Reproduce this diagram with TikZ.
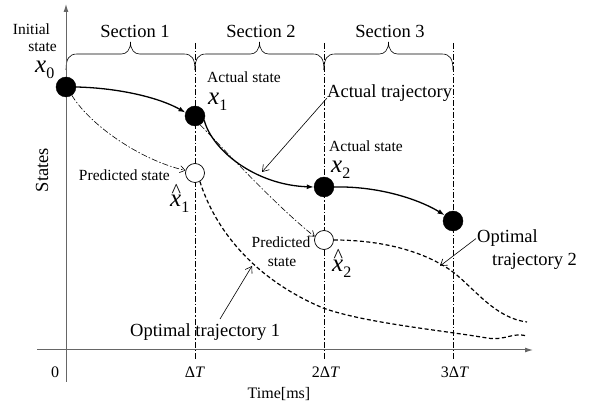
\documentclass[tikz,border=0pt]{standalone}
\usepackage{fontspec}
\setmainfont{Liberation Serif}
\usetikzlibrary{arrows.meta}
\newcommand\xsub[1]{\textit{x}\raisebox{-5.5pt}{\fontsize{16}{16}\selectfont #1}}
\newcommand\xhatsub[1]{\rlap{\hspace{1.5pt}\raisebox{9pt}{\fontsize{20}{20}\selectfont\textasciicircum}}\xsub{#1}}
\begin{document}
\begin{tikzpicture}[x=1pt,y=-1pt,
  bigtxt/.style={font=\fontsize{18.5}{21}\selectfont, inner sep=0pt},
  midtxt/.style={font=\fontsize{15.5}{18}\selectfont, inner sep=0pt},
  ticktxt/.style={font=\fontsize{16}{18}\selectfont, inner sep=0pt},
  xlab/.style={font=\fontsize{25}{25}\selectfont, inner sep=0pt, anchor=base west},
  fullstate/.style={circle, fill=black, draw=black, minimum size=20pt, inner sep=0pt},
  openstate/.style={circle, fill=white, draw=black, line width=0.7pt, minimum size=19pt, inner sep=0pt},
  axisline/.style={draw=black!60, line width=1pt},
  sectline/.style={line width=0.6pt, dash pattern=on 6pt off 2pt on 1.5pt off 2pt},
  bracepath/.style={line width=0.6pt},
  actual/.style={line width=1.3pt, -{Latex[length=7pt,width=5pt]}},
  predicted/.style={line width=0.6pt, dash pattern=on 6pt off 2pt on 1.5pt off 2pt, -{Straight Barb[length=5pt,width=7pt]}},
  optimal/.style={line width=1.2pt, dash pattern=on 4pt off 2.5pt},
  pointer/.style={line width=0.6pt, -{Straight Barb[length=6pt,width=8pt]}},
]
\useasboundingbox (0,0) rectangle (595,411);

% section boundaries
\coordinate (v1t) at (195,43); \coordinate (v1b) at (195,360);
\coordinate (v2t) at (324,43); \coordinate (v2b) at (324,360);
\coordinate (v3t) at (453,43); \coordinate (v3b) at (453,360);
\draw[sectline] (v1t) -- (v1b);
\draw[sectline] (v2t) -- (v2b);
\draw[sectline] (v3t) -- (v3b);

% braces
\draw[bracepath] (66,70) .. controls (66,59) and (69,54) .. (77,54) -- (121.5,54)
  .. controls (126.5,54) and (130.5,50) .. (130.5,42) .. controls (130.5,50) and (134.5,54) .. (139.5,54)
  -- (184,54) .. controls (192,54) and (195,59) .. (195,70);
\draw[bracepath] (195,70) .. controls (195,59) and (198,54) .. (206,54) -- (250.5,54)
  .. controls (255.5,54) and (259.5,50) .. (259.5,42) .. controls (259.5,50) and (263.5,54) .. (268.5,54)
  -- (313,54) .. controls (321,54) and (324,59) .. (324,70);
\draw[bracepath] (324,70) .. controls (324,59) and (327,54) .. (335,54) -- (379.5,54)
  .. controls (384.5,54) and (388.5,50) .. (388.5,42) .. controls (388.5,50) and (392.5,54) .. (397.5,54)
  -- (442,54) .. controls (450,54) and (453,59) .. (453,70);

% axes
\coordinate (yb) at (66,382); \coordinate (yt) at (66,4);
\coordinate (xl) at (37,350); \coordinate (xr) at (533,350);
\draw[axisline, -{Latex[length=8pt,width=5pt]}] (yb) -- (yt);
\draw[axisline, -{Latex[length=8pt,width=5pt]}] (xl) -- (xr);

% states
\node[fullstate] (x0) at (66,87) {};
\node[fullstate] (x1) at (195,116) {};
\node[fullstate] (x2) at (324,187) {};
\node[fullstate] (x3) at (453,221) {};
\node[openstate] (p1) at (195,173) {};
\node[openstate] (p2) at (324,240) {};

% texts
\node[bigtxt, anchor=base] (sec1) at (135,38) {Section 1};
\node[bigtxt, anchor=base] (sec2) at (261,38) {Section 2};
\node[bigtxt, anchor=base] (sec3) at (390,38) {Section 3};
\node[midtxt, anchor=base] (init1) at (31.5,35) {Initial};
\node[midtxt, anchor=base] (init2) at (42.5,52) {state};
\node[xlab] (lx0) at (35,73) {\xsub{0}};
\node[midtxt, anchor=base west] (as1) at (207,83) {Actual state};
\node[xlab] (lx1) at (208,105) {\xsub{1}};
\node[midtxt, anchor=base west] (as2) at (329,152) {Actual state};
\node[xlab] (lx2) at (331,173) {\xsub{2}};
\node[bigtxt, anchor=base west] (atraj) at (327,98) {Actual trajectory};
\node[midtxt, anchor=base east] (ps1) at (170,181) {Predicted state};
\node[xlab] (lp1) at (170,207) {\xhatsub{1}};
\node[midtxt, anchor=base] (ps2a) at (281,248) {Predicted};
\node[midtxt, anchor=base] (ps2b) at (282,267) {state};
\node[xlab] (lp2) at (332,272) {\xhatsub{2}};
\node[bigtxt, anchor=base west] (opt1) at (130,337) {Optimal trajectory 1};
\node[bigtxt, anchor=base west] (opt2a) at (477,243) {Optimal};
\node[bigtxt, anchor=base west] (opt2b) at (492,266) {trajectory 2};
\node[ticktxt, anchor=base] (t0) at (55,378) {0};
\node[ticktxt, anchor=base] (t1) at (195,378) {Δ\textit{T}};
\node[ticktxt, anchor=base] (t2) at (326,378) {2Δ\textit{T}};
\node[ticktxt, anchor=base] (t3) at (455,378) {3Δ\textit{T}};
\node[ticktxt, anchor=base] (tlab) at (279,399) {Time[ms]};
\node[bigtxt, anchor=base, rotate=90] (ylab) at (48,170) {States};

% actual trajectory
\draw[actual] (x0.east) .. controls (120,88) and (160,98) .. (x1.160);
\draw[actual] (x1.-25) .. controls (212,150) and (255,185) .. (x2.west);
\draw[actual] (x2.east) .. controls (380,186) and (420,200) .. (x3.145);

% predictions
\draw[predicted] (x0.-55) .. controls (90,125) and (140,160) .. (p1.165);
\draw[predicted] (x1.-60) .. controls (225,150) and (275,205) .. (p2.160);

% optimal trajectories
\coordinate (o1m) at (323,308); \coordinate (o1n) at (487,338); \coordinate (o1end) at (527,336);
\draw[optimal] (p1.-60) .. controls (212,220) and (245,275) .. (o1m)
  .. controls (365,323) and (440,330) .. (o1n) .. controls (505,341) and (512,332) .. (o1end);
\coordinate (o2m) at (453,272); \coordinate (o2end) at (527,322);
\draw[optimal] (p2.east) .. controls (390,240) and (430,255) .. (o2m)
  .. controls (475,289) and (495,318) .. (o2end);

% pointers
\coordinate (ta) at (262,172);
\coordinate (o1src) at (220,319); \coordinate (ta1) at (252,266);
\coordinate (ta2) at (440,266);
\draw[pointer] (atraj.base west) -- (ta);
\draw[pointer] (o1src) -- (ta1);
\draw[pointer] ([xshift=-1pt]opt2a.west) -- (ta2);
\end{tikzpicture}
\end{document}
